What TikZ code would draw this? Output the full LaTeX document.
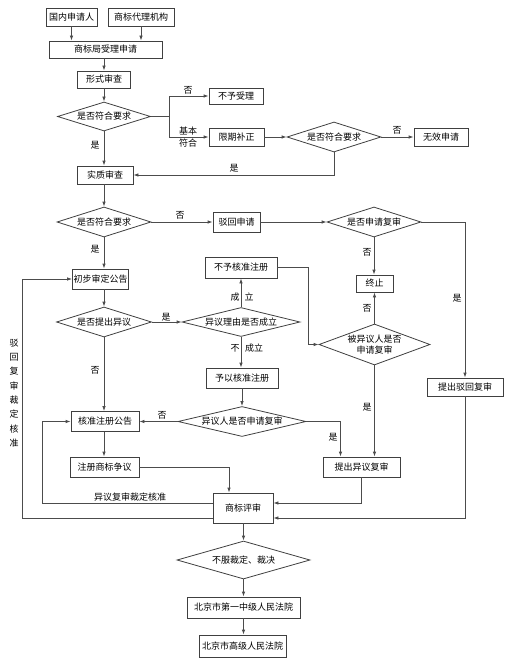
\documentclass[tikz,border=0pt]{standalone}
\usepackage{fontspec}
\newfontfamily\cjkfont{Noto Sans CJK SC}
\usetikzlibrary{arrows.meta}
\usetikzlibrary{shapes.geometric}

\begin{document}
\begin{tikzpicture}[x=1pt, y=-1pt,
	every node/.style={font=\cjkfont\fontsize{9}{11}\selectfont},
	flowbox/.style={draw=black!75, fill=white, line width=0.8pt, minimum height=18pt, inner sep=1pt},
	decision/.style={diamond, draw=black!75, fill=white, line width=0.8pt, inner sep=0pt, aspect=3.2},
	link/.style={draw=black!70, line width=0.8pt},
	arr/.style={link, -{Latex[length=5pt,width=3.5pt]}},
	lbl/.style={inner sep=0pt}]

	\useasboundingbox (0,0) rectangle (517,666);

	% applicants and first check
	\node[flowbox, minimum width=51pt] (app) at (71.5,17) {国内申请人};
	\node[flowbox, minimum width=66pt] (agent) at (141,17) {商标代理机构};
	\node[flowbox, minimum width=113pt, minimum height=17pt] (accept) at (105.5,49.5) {商标局受理申请};
	\node[flowbox, minimum width=53pt, minimum height=17pt] (form) at (104,79.5) {形式审查};
	\node[decision, minimum width=93pt, minimum height=29pt] (chkA) at (104,116.5) {是否符合要求};
	\node[flowbox, minimum width=54pt, minimum height=16pt] (refuse) at (236,96) {不予受理};
	\node[flowbox, minimum width=55pt] (fix) at (236.5,137) {限期补正};
	\node[decision, minimum width=94pt, minimum height=30pt] (chkB) at (334,137) {是否符合要求};
	\node[flowbox, minimum width=54pt] (invalid) at (441,137) {无效申请};

	\draw[arr] (app.south) -- (app.south |- accept.north);
	\draw[arr] (agent.south) -- (agent.south |- accept.north);
	\draw[arr] (form.north |- accept.south) -- (form.north);
	\draw[arr] (form.south) -- (chkA.north);
	\draw[link] (chkA.east) -- ++(18,0) coordinate (split);
	\draw[arr] (split) |- (refuse.west);
	\draw[arr] (split) |- (fix.west);
	\draw[arr] (fix.east) -- (chkB.west);
	\draw[arr] (chkB.east) -- (invalid.west);
	\node[lbl] at (188,90) {否};
	\node[lbl] at (188,131) {基本};
	\node[lbl] at (188,143) {符合};
	\node[lbl] at (397,130) {否};

	% substantive examination
	\node[flowbox, minimum width=56pt] (exam) at (105,175) {实质审查};
	\node[decision, minimum width=94pt, minimum height=30pt] (chkC) at (104,222) {是否符合要求};
	\node[flowbox, minimum width=47pt, minimum height=20pt] (reject) at (236.5,222) {驳回申请};
	\node[decision, minimum width=94pt, minimum height=30pt] (ask) at (374,222) {是否申请复审};
	\node[flowbox, minimum width=37pt, minimum height=17pt] (stop) at (374.5,283.5) {终止};
	\node[flowbox, minimum width=76pt] (rejrev) at (465,387) {提出驳回复审};

	\draw[arr] (chkA.south) -- (chkA.south |- exam.north);
	\draw[arr] (chkB.south) |- (exam.east);
	\draw[arr] (exam.south -| chkC.north) -- (chkC.north);
	\draw[arr] (chkC.east) -- (reject.west);
	\draw[arr] (reject.east) -- (ask.west);
	\draw[arr] (ask.south) -- (ask.south |- stop.north);
	\draw[arr] (ask.east) -| (rejrev.north);
	\node[lbl] at (95,145) {是};
	\node[lbl] at (234,168) {是};
	\node[lbl] at (180,215) {否};
	\node[lbl] at (367,252) {否};
	\node[lbl] at (457,298) {是};

	% publication and opposition
	\node[flowbox, minimum width=55pt, minimum height=20pt] (prelim) at (100.5,279) {初步审定公告};
	\node[decision, minimum width=95pt, minimum height=30pt] (oppose) at (104,322) {是否提出异议};
	\node[decision, minimum width=118pt, minimum height=29pt, aspect=4] (reason) at (241,322) {异议理由是否成立};
	\node[flowbox, minimum width=72pt, minimum height=21pt] (notreg) at (241,267.5) {不予核准注册};
	\node[flowbox, minimum width=72pt, minimum height=20pt] (okreg) at (242,378) {予以核准注册};
	\node[decision, minimum width=111pt, minimum height=41pt, aspect=2.7, align=center] (opposee) at (374.5,344.5) {被异议人是否\\申请复审};
	\node[decision, minimum width=128pt, minimum height=30pt, aspect=4.5] (opposer) at (242,421.5) {异议人是否申请复审};
	\node[flowbox, minimum width=68pt, minimum height=20pt] (pub) at (105,421.5) {核准注册公告};
	\node[flowbox, minimum width=77pt, minimum height=20pt] (opprev) at (361.5,467) {提出异议复审};
	\node[flowbox, minimum width=69pt, minimum height=20pt] (dispute) at (104.5,467) {注册商标争议};

	\draw[arr] (chkC.south) -- (chkC.south |- prelim.north);
	\draw[arr] (oppose.north |- prelim.south) -- (oppose.north);
	\draw[arr] (oppose.east) -- (reason.west);
	\draw[arr] (reason.north) -- (reason.north |- notreg.south);
	\draw[arr] (reason.south) -- (reason.south |- okreg.north);
	\draw[arr] (notreg.east) -- ++(31,0) |- (opposee.west);
	\draw[arr] (opposee.north) -- (opposee.north |- stop.south);
	\draw[arr] (opposee.south) -- (opposee.south |- opprev.north);
	\draw[arr] (okreg.south) -- (okreg.south |- opposer.north);
	\draw[arr] (opposer.west) -- (pub.east);
	\draw[arr] (opposer.east) -| ([xshift=-21pt]opprev.north);
	\draw[arr] (oppose.south) -- (oppose.south |- pub.north);
	\draw[arr] (oppose.south |- pub.south) -- (oppose.south |- dispute.north);
	\node[lbl] at (95,249) {是};
	\node[lbl] at (166,317) {是};
	\node[lbl] at (235,297) {成};
	\node[lbl] at (249,297) {立};
	\node[lbl] at (235,348) {不};
	\node[lbl] at (254,348) {成立};
	\node[lbl] at (367,308) {否};
	\node[lbl] at (367,407) {是};
	\node[lbl] at (95,370) {否};
	\node[lbl] at (162,415) {否};
	\node[lbl] at (333,437) {是};

	% review board and courts
	\node[flowbox, minimum width=60pt, minimum height=30pt] (board) at (243,508) {商标评审};
	\node[decision, minimum width=133pt, minimum height=38pt] (appeal) at (243.5,560) {不服裁定、裁决};
	\node[flowbox, minimum width=113pt, minimum height=21pt] (court1) at (243.5,607.5) {北京市第一中级人民法院};
	\node[flowbox, minimum width=87pt, minimum height=22pt] (court2) at (242.5,646) {北京市高级人民法院};

	\draw[arr] (dispute.east) -| ([xshift=-14pt]board.north);
	\draw[arr] (opprev.south) |- ([yshift=5pt]board.east);
	\draw[arr] (rejrev.south) |- ([yshift=-10pt]board.east);
	\draw[arr] ([yshift=5pt]board.west) -| ([xshift=-28pt]pub.west) -- (pub.west);
	\draw[arr] ([yshift=-10pt]board.west) -| ([xshift=-50pt]prelim.west) -- (prelim.west);
	\draw[arr] (board.south -| appeal.north) -- (appeal.north);
	\draw[arr] (appeal.south) -- (appeal.south |- court1.north);
	\draw[arr] (court1.south) -- (court1.south |- court2.north);
	\node[lbl] at (130,497) {异议复审裁定核准};
	\node[lbl, align=center, font=\cjkfont\fontsize{9}{14.3}\selectfont] at (14,393) {驳\\回\\复\\审\\裁\\定\\核\\准};

\end{tikzpicture}
\end{document}
